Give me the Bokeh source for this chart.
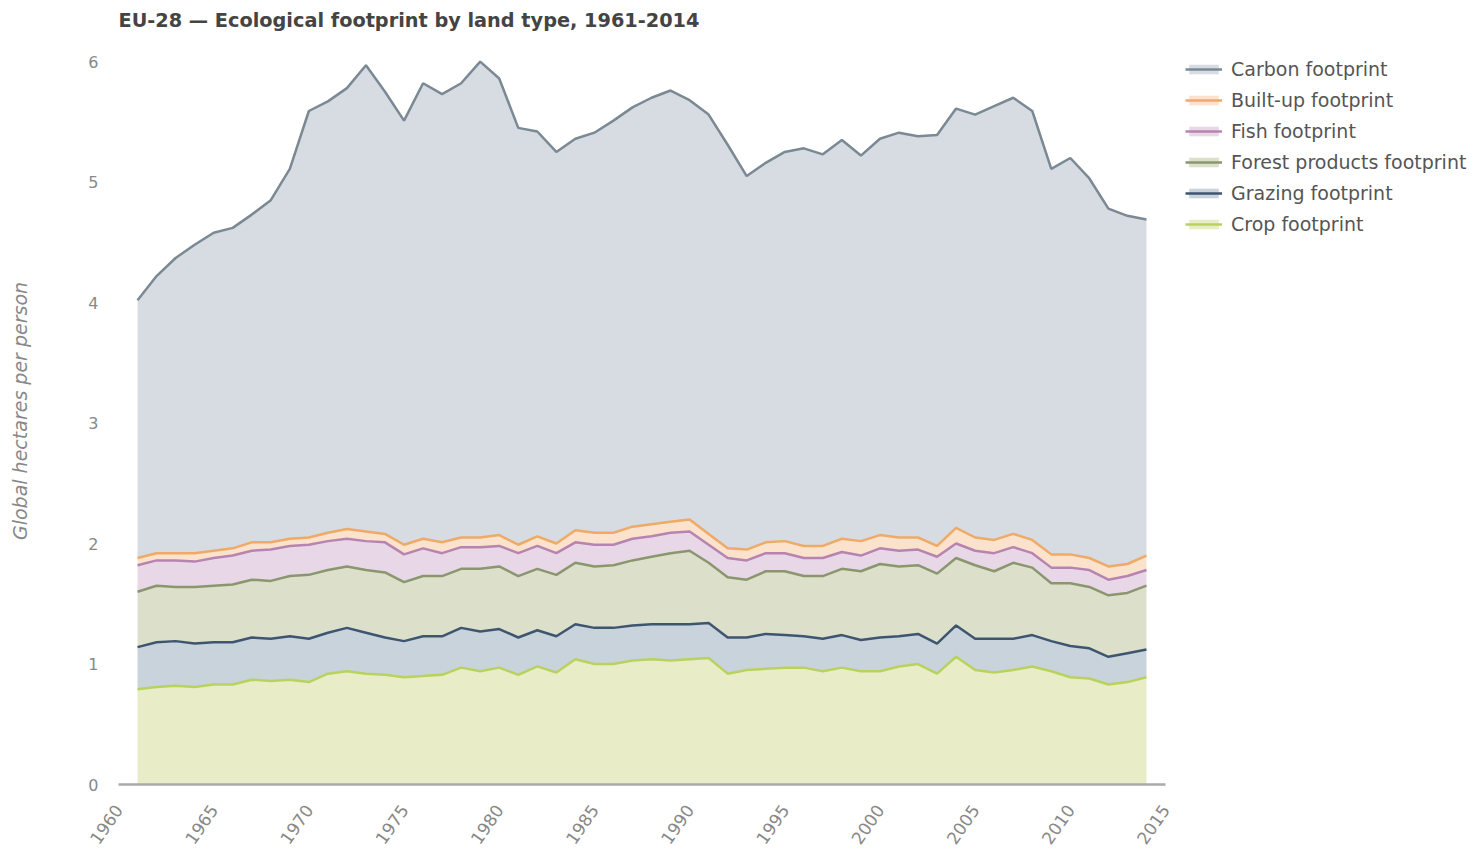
import math
from bokeh.plotting import figure
from bokeh.models import Range1d, Legend, LegendItem, FixedTicker, ColumnDataSource
from bokeh.embed import file_html
from bokeh.resources import INLINE

# ---- data (stacked tops, global hectares per person) ----
years = list(range(1961, 2015))

crop_top = [0.79, 0.81, 0.82, 0.81, 0.83, 0.83, 0.87, 0.86, 0.87, 0.85,
            0.92, 0.94, 0.92, 0.91, 0.89, 0.90, 0.91, 0.97, 0.94, 0.97,
            0.91, 0.98, 0.93, 1.04, 1.00, 1.00, 1.03, 1.04, 1.03, 1.04,
            1.05, 0.92, 0.95, 0.96, 0.97, 0.97, 0.94, 0.97, 0.94, 0.94,
            0.98, 1.00, 0.92, 1.06, 0.95, 0.93, 0.95, 0.98, 0.94, 0.89,
            0.88, 0.83, 0.85, 0.89]

grazing_top = [1.14, 1.18, 1.19, 1.17, 1.18, 1.18, 1.22, 1.21, 1.23, 1.21,
               1.26, 1.30, 1.26, 1.22, 1.19, 1.23, 1.23, 1.30, 1.27, 1.29,
               1.22, 1.28, 1.23, 1.33, 1.30, 1.30, 1.32, 1.33, 1.33, 1.33,
               1.34, 1.22, 1.22, 1.25, 1.24, 1.23, 1.21, 1.24, 1.20, 1.22,
               1.23, 1.25, 1.17, 1.32, 1.21, 1.21, 1.21, 1.24, 1.19, 1.15,
               1.13, 1.06, 1.09, 1.12]

forest_top = [1.60, 1.65, 1.64, 1.64, 1.65, 1.66, 1.70, 1.69, 1.73, 1.74,
              1.78, 1.81, 1.78, 1.76, 1.68, 1.73, 1.73, 1.79, 1.79, 1.81,
              1.73, 1.79, 1.74, 1.84, 1.81, 1.82, 1.86, 1.89, 1.92, 1.94,
              1.84, 1.72, 1.70, 1.77, 1.77, 1.73, 1.73, 1.79, 1.77, 1.83,
              1.81, 1.82, 1.75, 1.88, 1.82, 1.77, 1.84, 1.80, 1.67, 1.67,
              1.64, 1.57, 1.59, 1.65]

fish_top = [1.82, 1.86, 1.86, 1.85, 1.88, 1.90, 1.94, 1.95, 1.98, 1.99,
            2.02, 2.04, 2.02, 2.01, 1.91, 1.96, 1.92, 1.97, 1.97, 1.98,
            1.92, 1.98, 1.92, 2.01, 1.99, 1.99, 2.04, 2.06, 2.09, 2.10,
            1.99, 1.88, 1.86, 1.92, 1.92, 1.88, 1.88, 1.93, 1.90, 1.96,
            1.94, 1.95, 1.89, 2.00, 1.94, 1.92, 1.97, 1.92, 1.80, 1.80,
            1.78, 1.70, 1.73, 1.78]

builtup_top = [1.88, 1.92, 1.92, 1.92, 1.94, 1.96, 2.01, 2.01, 2.04, 2.05,
               2.09, 2.12, 2.10, 2.08, 1.99, 2.04, 2.01, 2.05, 2.05, 2.07,
               1.99, 2.06, 2.00, 2.11, 2.09, 2.09, 2.14, 2.16, 2.18, 2.20,
               2.08, 1.96, 1.95, 2.01, 2.02, 1.98, 1.98, 2.04, 2.02, 2.07,
               2.05, 2.05, 1.98, 2.13, 2.05, 2.03, 2.08, 2.03, 1.91, 1.91,
               1.88, 1.81, 1.83, 1.90]

carbon_top = [4.02, 4.22, 4.37, 4.48, 4.58, 4.62, 4.73, 4.85, 5.11, 5.59,
              5.67, 5.78, 5.97, 5.75, 5.51, 5.82, 5.73, 5.82, 6.00, 5.86,
              5.45, 5.42, 5.25, 5.36, 5.41, 5.51, 5.62, 5.70, 5.76, 5.68,
              5.56, 5.31, 5.05, 5.16, 5.25, 5.28, 5.23, 5.35, 5.22, 5.36,
              5.41, 5.38, 5.39, 5.61, 5.56, 5.63, 5.70, 5.59, 5.11, 5.20,
              5.03, 4.78, 4.72, 4.69]

x_ticks = [1960, 1965, 1970, 1975, 1980, 1985, 1990, 1995, 2000, 2005, 2010, 2015]
y_ticks = [0, 1, 2, 3, 4, 5, 6]

series_names = ["Carbon footprint", "Built-up footprint", "Fish footprint",
                "Forest products footprint", "Grazing footprint", "Crop footprint"]

# ---- styles ----
styles = {
    "crop":    ("#e8edc8", "#b8d25e"),
    "grazing": ("#c9d3dc", "#3e5570"),
    "forest":  ("#dcdfca", "#8a976e"),
    "fish":    ("#e8d8e7", "#b783b0"),
    "builtup": ("#fbe2cc", "#eeaa66"),
    "carbon":  ("#d6dce1", "#7b8994"),
}

src = ColumnDataSource(dict(x=years, zero=[0] * len(years), crop=crop_top,
                            grazing=grazing_top, forest=forest_top, fish=fish_top,
                            builtup=builtup_top, carbon=carbon_top))

FONT = "DejaVu Sans"
FRAME_H = 747

p = figure(frame_width=1047, frame_height=FRAME_H,
           min_border_left=118, min_border_right=310,
           min_border_top=36, min_border_bottom=69,
           x_range=Range1d(1960, 2015), y_range=Range1d(0, 6.2),
           output_backend="svg", toolbar_location=None,
           title="EU-28 \u2014 Ecological footprint by land type, 1961-2014")

p.title.text_font = FONT
p.title.text_font_size = "19.3px"
p.title.text_font_style = "bold"
p.title.text_color = "#444444"
p.title.align = "left"
p.title.standoff = 12

order = [("crop", "zero"), ("grazing", "crop"), ("forest", "grazing"),
         ("fish", "forest"), ("builtup", "fish"), ("carbon", "builtup")]
renderers = {}
for key, below in order:
    fill, line = styles[key]
    a = p.varea(x="x", y1=below, y2=key, source=src, fill_color=fill)
    renderers[key] = [a]
for key, below in order:
    fill, line = styles[key]
    l = p.line(x="x", y=key, source=src, line_color=line, line_width=2.5)
    renderers[key].append(l)

keys_legend = ["carbon", "builtup", "fish", "forest", "grazing", "crop"]
items = [LegendItem(label=n, renderers=renderers[k]) for n, k in zip(series_names, keys_legend)]
legend = Legend(items=items, location=(20, FRAME_H - 14 - 184),
                border_line_color=None, background_fill_alpha=0,
                padding=0, margin=0, spacing=9,
                glyph_width=37, glyph_height=12, label_height=22,
                label_standoff=9,
                label_text_font=FONT, label_text_font_size="19px",
                label_text_color="#555555")
p.add_layout(legend, "right")

p.xgrid.visible = False
p.ygrid.visible = False
p.outline_line_color = None

xa = p.xaxis[0]
xa.ticker = FixedTicker(ticks=x_ticks)
xa.axis_line_color = "#aaaaaa"
xa.axis_line_width = 2.5
xa.major_tick_line_color = None
xa.minor_tick_line_color = None
xa.major_tick_out = 0
xa.major_label_orientation = math.radians(55)
xa.major_label_text_font = FONT
xa.major_label_text_font_size = "17px"
xa.major_label_text_color = "#888888"
xa.major_label_standoff = 22

ya = p.yaxis[0]
ya.ticker = FixedTicker(ticks=y_ticks)
ya.axis_line_color = None
ya.major_tick_line_color = None
ya.minor_tick_line_color = None
ya.major_tick_out = 0
ya.major_label_text_font = FONT
ya.major_label_text_font_size = "16px"
ya.major_label_text_color = "#888888"
ya.major_label_standoff = 20
ya.axis_label = "Global hectares per person"
ya.axis_label_text_font = FONT
ya.axis_label_text_font_size = "19px"
ya.axis_label_text_font_style = "italic"
ya.axis_label_text_color = "#888888"
ya.axis_label_standoff = 54

open("out.html", "w").write(file_html(p, INLINE))
